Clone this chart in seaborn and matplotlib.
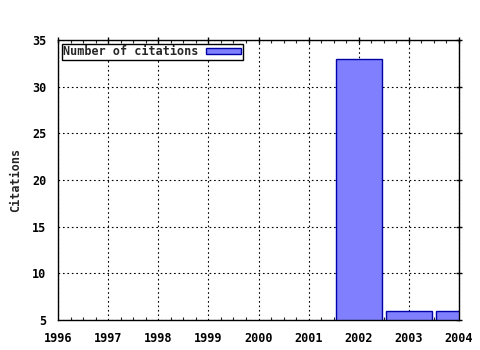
import matplotlib
matplotlib.use("Agg")
import matplotlib.pyplot as plt
import seaborn as sns
import pandas as pd
from matplotlib.ticker import MultipleLocator
from matplotlib.patches import Patch

years = [2002, 2003, 2004]
citations = [33, 6, 6]
x_ticks = [1996, 1997, 1998, 1999, 2000, 2001, 2002, 2003, 2004]
y_ticks = [5, 10, 15, 20, 25, 30, 35]
series_label = "Number of citations"
y_label = "Citations"

sns.set_style("white")
plt.rcParams['font.family'] = ['DejaVu Sans Mono']
plt.rcParams['font.weight'] = 'bold'

df = pd.DataFrame({"year": years, "citations": citations})

fig = plt.figure(figsize=(4.8, 3.5), dpi=100)
ax = fig.add_axes([58/480, 1-320/350, (459-58)/480, (320-40)/350])

sns.barplot(data=df, x="year", y="citations", native_scale=True, width=0.92,
            color="#8080ff", saturation=1, edgecolor="#0000a8", linewidth=1.0,
            ax=ax, zorder=3)

ax.set_xlim(1996, 2004)
ax.set_ylim(5, 35)
ax.set_xticks(x_ticks)
ax.set_xticklabels([str(v) for v in x_ticks])
ax.set_yticks(y_ticks)
ax.set_yticklabels([str(v) for v in y_ticks])
ax.xaxis.set_minor_locator(MultipleLocator(0.25))

for s in ax.spines.values():
    s.set_color("black")
    s.set_linewidth(1.0)
    s.set_zorder(5)

ax.grid(True, which="major", color="black", linestyle=(0, (1.5, 2.5)), linewidth=0.8, zorder=0)
ax.set_axisbelow(True)

ax.tick_params(axis="both", which="major", direction="inout", length=5, width=1,
               labelsize=8.5, pad=6, top=True, right=True, colors="black")
ax.tick_params(axis="x", which="minor", direction="in", length=2.5, width=0.8, top=True, bottom=True)
for lab in ax.get_xticklabels() + ax.get_yticklabels():
    lab.set_fontweight("bold")

ax.set_xlabel("")
ax.set_ylabel(y_label, fontsize=8.5, fontweight="bold", labelpad=7)

handle = Patch(facecolor="#8080ff", edgecolor="#0000a8", linewidth=1.0)
leg = ax.legend([handle], [series_label], loc="upper left", bbox_to_anchor=(0.0, 1.0),
                frameon=True, fancybox=False, edgecolor="black", framealpha=1,
                markerfirst=False, handlelength=3.0, handleheight=0.5,
                borderpad=0.15, borderaxespad=0.3, handletextpad=0.6,
                prop={"family": "DejaVu Sans Mono", "weight": "bold", "size": 8.5})
leg.get_frame().set_linewidth(1.0)

fig.savefig("out.png", dpi=100)
